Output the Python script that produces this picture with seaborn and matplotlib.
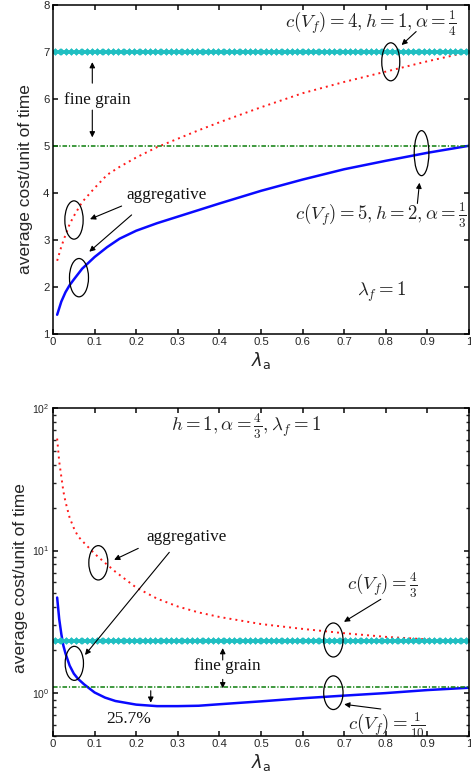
import numpy as np
import pandas as pd
import matplotlib
matplotlib.use("Agg")
import matplotlib.pyplot as plt
from matplotlib.patches import Ellipse
import seaborn as sns

# top panel: lambda_f = 1
lam_top = [0.01, 0.02, 0.03, 0.04, 0.05, 0.07, 0.1, 0.13, 0.16, 0.2,
           0.25, 0.3, 0.35, 0.4, 0.5, 0.6, 0.7, 0.8, 0.9, 1.0]
agg_blue_top = [1.40, 1.68, 1.88, 2.03, 2.15, 2.38, 2.63, 2.84, 3.02, 3.19,
                3.35, 3.49, 3.63, 3.77, 4.04, 4.28, 4.50, 4.68, 4.85, 5.00]
agg_red_top = [2.55, 2.85, 3.10, 3.33, 3.50, 3.80, 4.10, 4.38, 4.55, 4.75,
               4.97, 5.15, 5.33, 5.50, 5.82, 6.12, 6.36, 6.58, 6.80, 7.00]
fine_cyan_top = 7.0
fine_green_top = 5.0

# bottom panel: h = 1, alpha = 4/3
lam_bot = [0.01, 0.015, 0.02, 0.025, 0.03, 0.04, 0.05, 0.06, 0.075, 0.1,
           0.125, 0.15, 0.2, 0.25, 0.3, 0.35, 0.4, 0.5, 0.6, 0.7, 0.8, 0.9, 1.0]
agg_red_bot = [61.0, 42.0, 33.0, 26.0, 22.0, 17.0, 14.4, 12.6, 11.3, 9.5,
               8.2, 7.1, 5.5, 4.6, 4.05, 3.68, 3.42, 3.05, 2.82, 2.63, 2.48, 2.38, 2.33]
agg_blue_bot = [4.68, 3.30, 2.60, 2.15, 1.90, 1.56, 1.37, 1.26, 1.15, 1.01,
                0.93, 0.88, 0.83, 0.81, 0.81, 0.815, 0.835, 0.875, 0.92, 0.96, 1.00, 1.05, 1.09]
fine_cyan_bot = 2.333
fine_green_bot = 1.1

x_ticks = [0, 0.1, 0.2, 0.3, 0.4, 0.5, 0.6, 0.7, 0.8, 0.9, 1]
x_ticklabels = ["0", "0.1", "0.2", "0.3", "0.4", "0.5", "0.6", "0.7", "0.8", "0.9", "1"]

CYAN = "#1fbfc2"
GREEN = "#0a7d0a"
RED = "#ff1a1a"
BLUE = "#0a0aff"
SERIF = "Liberation Serif"

sns.set_theme(style="ticks")
plt.rcParams.update({
    "font.family": ["Liberation Sans", "DejaVu Sans"],
    "xtick.direction": "in", "ytick.direction": "in",
    "xtick.top": True, "ytick.right": True,
    "xtick.labelsize": 8.2, "ytick.labelsize": 8.2,
    "xtick.major.size": 3.5, "ytick.major.size": 3.5,
    "ytick.minor.size": 2, "xtick.major.pad": 2.5, "ytick.major.pad": 2.5,
    "axes.linewidth": 1.1, "axes.edgecolor": "black",
})


def draw_panel(ax, lam, blue, red, cyan, green):
    df = pd.DataFrame({"lam": lam, "blue": blue, "red": red})
    sns.lineplot(data=df, x="lam", y="red", ax=ax, color=RED, lw=1.4,
                 linestyle=(0, (1, 2.1)))
    sns.lineplot(data=df, x="lam", y="blue", ax=ax, color=BLUE, lw=1.8)
    ax.axhline(green, color=GREEN, lw=1.1, linestyle=(0, (3, 1.2, 0.8, 1.2)))
    grid = np.linspace(0, 1, 80)
    sns.lineplot(x=grid, y=np.full(len(grid), cyan), ax=ax, color=CYAN, lw=2.6,
                 marker="x", markersize=4.4, markeredgewidth=1.3,
                 markeredgecolor=CYAN)
    ax.set_xlim(0, 1)
    ax.set_xticks(x_ticks)
    ax.set_xticklabels(x_ticklabels)
    ax.set_xlabel(r"$\lambda_\mathrm{a}$", fontsize=13, math_fontfamily="dejavusans",
                  labelpad=2)
    ax.set_ylabel("average cost/unit of time", fontsize=12.5)
    for s in ax.spines.values():
        s.set_visible(True)


def ellipse(ax, cx, cy, w, h):
    ax.add_patch(Ellipse((cx, cy), w, h, transform=ax.transAxes, fill=False,
                         ec="black", lw=0.9, zorder=5))


def arrow(ax, x0, y0, x1, y1):
    ax.annotate("", xy=(x1, y1), xytext=(x0, y0), xycoords="axes fraction",
                arrowprops=dict(arrowstyle="-|>", color="black", lw=0.8,
                                mutation_scale=8, shrinkA=0, shrinkB=0), zorder=6)


def math_text(ax, x, y, s, size=13.5, ha="center"):
    ax.text(x, y, s, transform=ax.transAxes, fontsize=size, ha=ha, va="center",
            math_fontfamily="cm", color="#222222")


def serif_text(ax, x, y, s, size=12.3):
    ax.text(x, y, s, transform=ax.transAxes, fontsize=size, ha="center", va="center",
            family=SERIF, color="#111111")


fig = plt.figure(figsize=(4.71, 7.76), dpi=100)
ax1 = fig.add_axes([0.1125, 0.5702, 0.8832, 0.4234])
ax2 = fig.add_axes([0.1125, 0.05155, 0.8832, 0.4227])

# top panel
draw_panel(ax1, lam_top, agg_blue_top, agg_red_top, fine_cyan_top, fine_green_top)
ax1.set_ylim(1, 8)
ax1.set_yticks(range(1, 9))
ax1.yaxis.set_label_coords(-0.048, 0.47)

math_text(ax1, 0.971, 0.945, r"$c(V_f) = 4, h = 1, \alpha = \frac{1}{4}$", ha="right")
math_text(ax1, 0.995, 0.361, r"$c(V_f) = 5, h = 2, \alpha = \frac{1}{3}$", ha="right")
math_text(ax1, 0.79, 0.127, r"$\lambda_f = 1$")
ellipse(ax1, 0.812, 0.827, 0.0433, 0.1157)
arrow(ax1, 0.873, 0.919, 0.838, 0.878)
ellipse(ax1, 0.886, 0.549, 0.0353, 0.137)
arrow(ax1, 0.876, 0.396, 0.881, 0.459)
serif_text(ax1, 0.1065, 0.711, "fine grain")
arrow(ax1, 0.0945, 0.762, 0.0945, 0.826)
arrow(ax1, 0.0945, 0.680, 0.0945, 0.597)
serif_text(ax1, 0.274, 0.422, "aggregative")
arrow(ax1, 0.165, 0.388, 0.089, 0.348)
arrow(ax1, 0.189, 0.361, 0.0873, 0.249)
ellipse(ax1, 0.0505, 0.3455, 0.044, 0.1166)
ellipse(ax1, 0.0625, 0.170, 0.0457, 0.1166)

# bottom panel
draw_panel(ax2, lam_bot, agg_blue_bot, agg_red_bot, fine_cyan_bot, fine_green_bot)
ax2.set_yscale("log")
ax2.set_ylim(0.5, 100)
ax2.yaxis.set_label_coords(-0.06, 0.483)
ax2.tick_params(axis="y", which="both", labelsize=7.5)
ax2.tick_params(axis="y", which="minor", direction="in", right=True, left=True)

math_text(ax2, 0.463, 0.943, r"$h = 1, \alpha = \frac{4}{3}, \lambda_f = 1$")
serif_text(ax2, 0.32, 0.608, "aggregative")
arrow(ax2, 0.205, 0.572, 0.147, 0.537)
arrow(ax2, 0.2796, 0.560, 0.0769, 0.247)
ellipse(ax2, 0.109, 0.528, 0.0457, 0.1047)
ellipse(ax2, 0.0513, 0.2215, 0.044, 0.1037)
serif_text(ax2, 0.419, 0.214, "fine grain")
arrow(ax2, 0.408, 0.2317, 0.408, 0.268)
arrow(ax2, 0.408, 0.1726, 0.408, 0.1454)
arrow(ax2, 0.235, 0.138, 0.235, 0.1015)
serif_text(ax2, 0.181, 0.052, "25.7%", size=12.5)
ellipse(ax2, 0.674, 0.2927, 0.0465, 0.1037)
arrow(ax2, 0.788, 0.4167, 0.6995, 0.348)
math_text(ax2, 0.793, 0.46, r"$c(V_f) = \frac{4}{3}$")
ellipse(ax2, 0.674, 0.132, 0.0465, 0.1027)
arrow(ax2, 0.788, 0.0823, 0.700, 0.0966)
math_text(ax2, 0.802, 0.0335, r"$c(V_f) = \frac{1}{10}$")

fig.savefig("out.png", dpi=100)
